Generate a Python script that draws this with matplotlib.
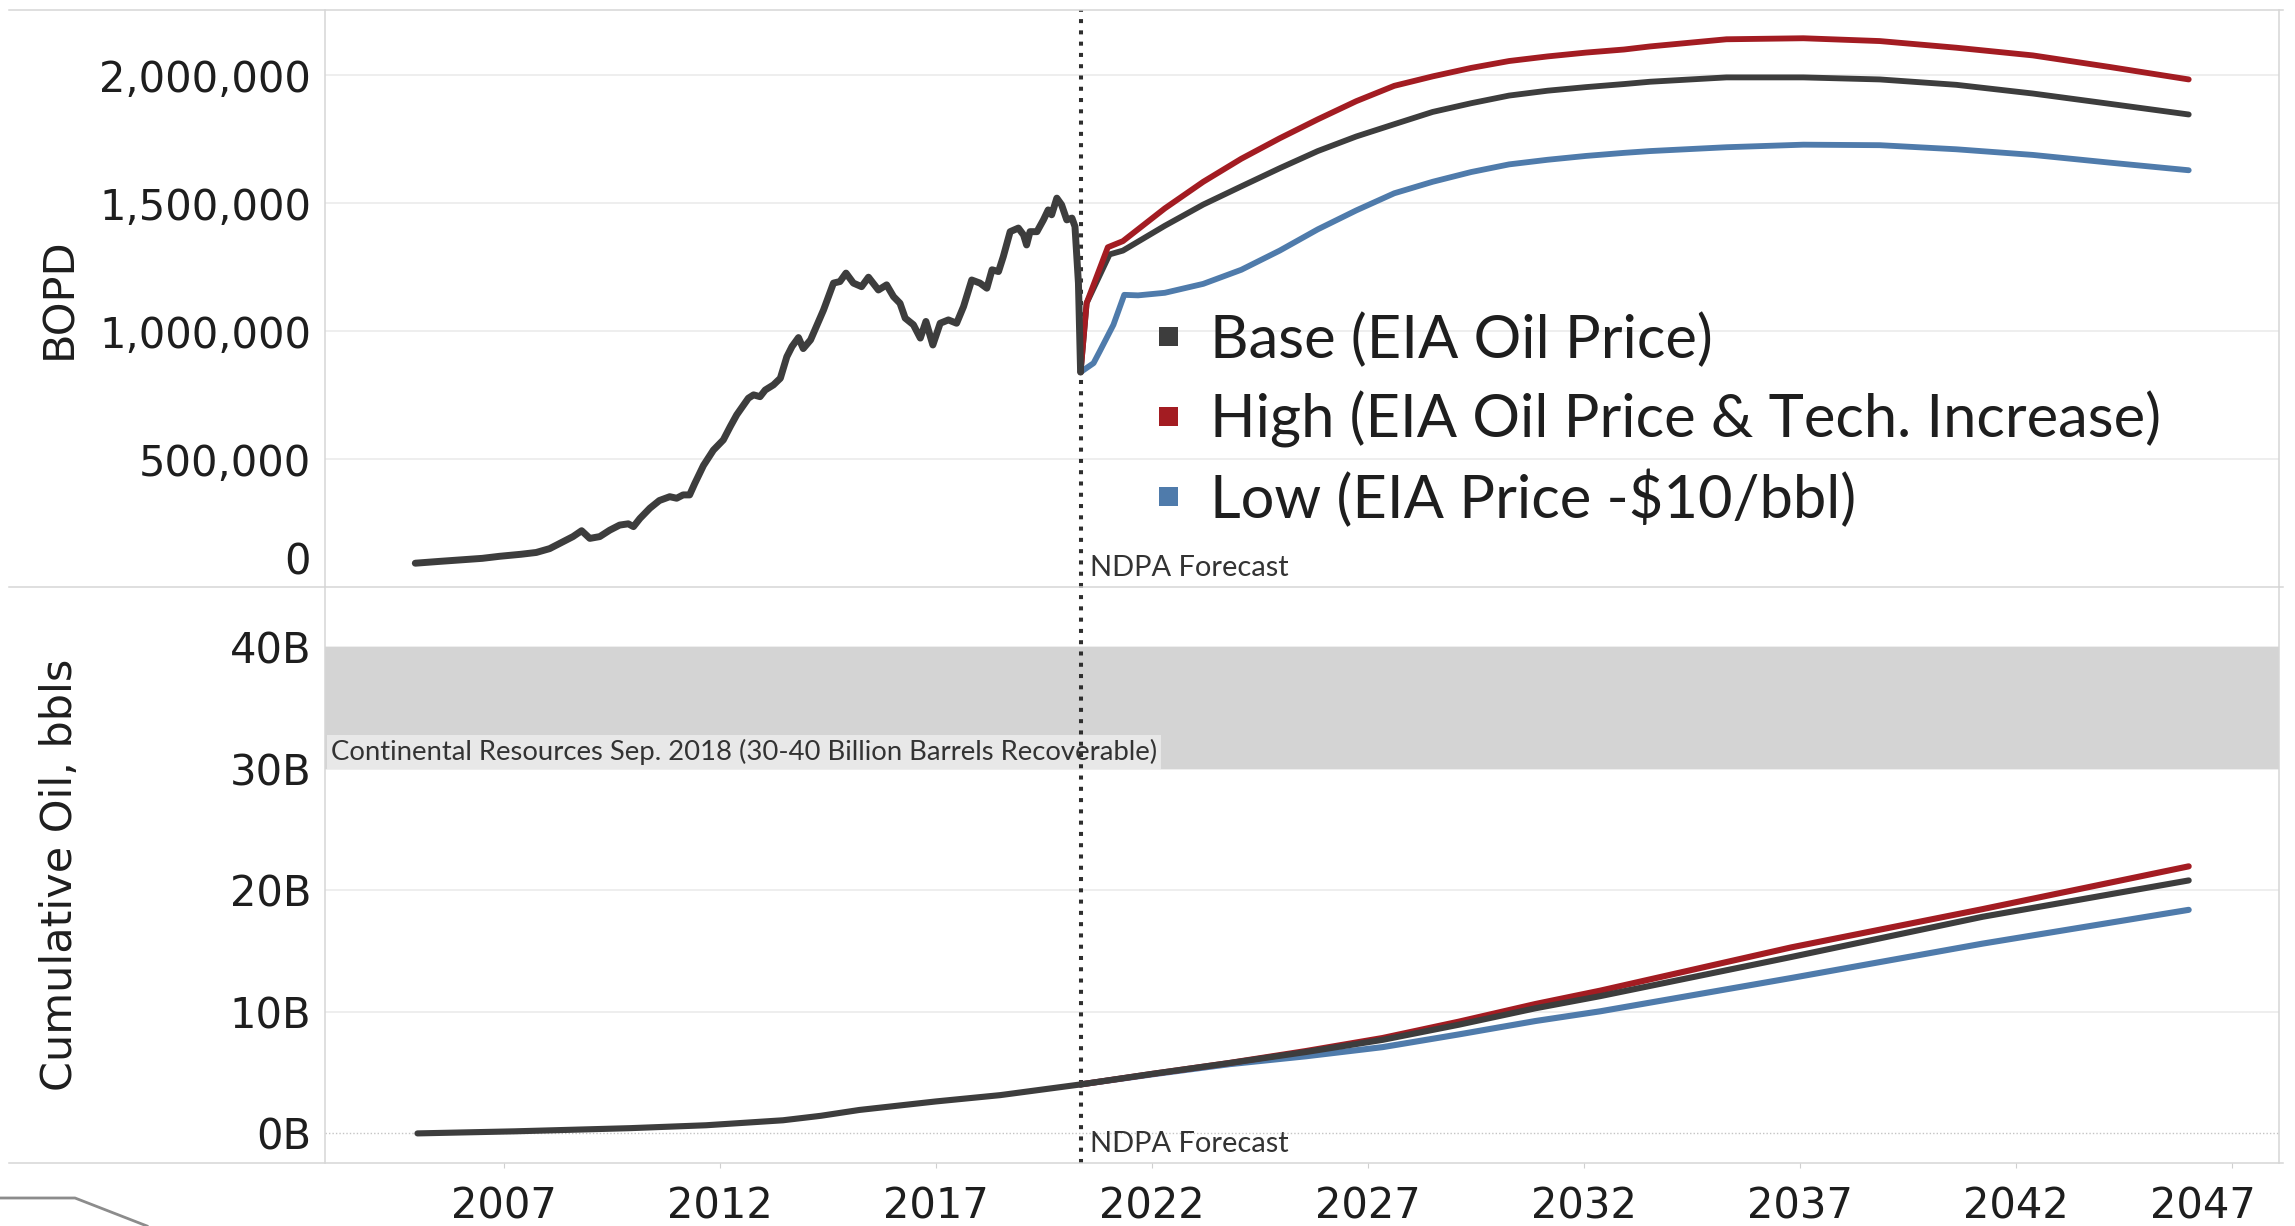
import matplotlib
matplotlib.use("Agg")
import matplotlib.pyplot as plt
from matplotlib.lines import Line2D
from matplotlib.patches import Rectangle

# ---------------- data ----------------
hist_years = [2004.95, 2005.5, 2006.0, 2006.5, 2006.9, 2007.4, 2007.75, 2008.06, 2008.37, 2008.6,
              2008.8, 2008.99, 2009.22, 2009.45, 2009.68, 2009.88, 2010.0, 2010.15, 2010.38, 2010.6,
              2010.84, 2011.0, 2011.15, 2011.3, 2011.42, 2011.62, 2011.85, 2012.08, 2012.24, 2012.39,
              2012.66, 2012.78, 2012.93, 2013.05, 2013.24, 2013.4, 2013.55, 2013.67, 2013.82, 2013.93,
              2014.1, 2014.4, 2014.63, 2014.78, 2014.92, 2015.09, 2015.28, 2015.44, 2015.67, 2015.86,
              2016.02, 2016.17, 2016.29, 2016.48, 2016.64, 2016.77, 2016.93, 2017.1, 2017.29, 2017.48,
              2017.64, 2017.83, 2018.02, 2018.18, 2018.3, 2018.45, 2018.56, 2018.72, 2018.91, 2019.03,
              2019.1, 2019.18, 2019.34, 2019.49, 2019.6, 2019.68, 2019.8, 2019.91, 2020.03, 2020.15,
              2020.22, 2020.3, 2020.35]
hist_bopd_k = [93, 100, 106, 112, 120, 128, 135, 150, 177, 197,
               220, 190, 197, 222, 242, 247, 236, 268, 308, 338,
               353, 347, 360, 360, 405, 475, 535, 575, 627, 673,
               738, 751, 744, 770, 790, 816, 900, 940, 975, 932,
               966, 1083, 1188, 1194, 1227, 1188, 1174, 1211, 1161, 1181,
               1135, 1109, 1051, 1025, 973, 1038, 946, 1031, 1044, 1031,
               1096, 1200, 1188, 1168, 1240, 1233, 1291, 1389, 1403, 1376,
               1337, 1389, 1389, 1435, 1474, 1455, 1520, 1494, 1435, 1442,
               1409, 1188, 840]

grid_years = [2022.3, 2023.19, 2024.07, 2024.96, 2025.84, 2026.73, 2027.61, 2028.5, 2029.39,
              2030.27, 2031.16, 2032.05, 2032.93, 2033.53, 2035.3, 2037.08, 2038.85, 2040.62,
              2042.39, 2044.16, 2046.0]

base_years = [2020.35, 2020.49, 2021.02, 2021.33] + grid_years
base_bopd_k = [840, 1110, 1300, 1315,
               1412, 1495, 1566, 1637, 1704, 1761, 1809, 1857, 1891, 1921, 1940, 1954, 1966, 1975,
               1992, 1992, 1984, 1963, 1929, 1889, 1847]

high_years = [2020.35, 2020.49, 2020.98, 2021.33] + grid_years
high_bopd_k = [840, 1110, 1328, 1352,
               1480, 1584, 1674, 1754, 1828, 1899, 1959, 1996, 2029, 2056, 2074, 2089, 2101, 2113,
               2141, 2145, 2134, 2108, 2078, 2033, 1984]

low_years = [2020.35, 2020.65, 2020.79, 2021.11, 2021.36, 2021.68] + grid_years
low_bopd_k = [840, 875, 920, 1025, 1142, 1140,
              1150, 1185, 1240, 1315, 1398, 1472, 1539, 1584, 1622, 1652, 1670, 1685, 1697, 1704,
              1719, 1729, 1727, 1711, 1689, 1659, 1629]

cum_hist_years = [2005.0, 2007.25, 2009.91, 2011.68, 2013.46, 2014.34, 2015.23, 2017.0, 2018.49, 2020.35]
cum_hist_b = [0.0, 0.17, 0.43, 0.67, 1.08, 1.45, 1.93, 2.63, 3.15, 4.03]

cum_fc_years = [2020.35, 2022.03, 2023.8, 2025.57, 2027.34, 2029.11, 2030.88, 2032.38, 2036.8, 2041.23, 2046.0]
base_cum_b = [4.03, 4.91, 5.79, 6.70, 7.70, 8.95, 10.30, 11.30, 14.52, 17.83, 20.82]
high_cum_b = [4.03, 4.91, 5.80, 6.78, 7.85, 9.20, 10.65, 11.75, 15.31, 18.46, 21.98]
low_cum_b = [4.03, 4.87, 5.70, 6.35, 7.10, 8.15, 9.25, 10.05, 12.79, 15.62, 18.40]

bopd_ticks_k = [500, 1000, 1500, 2000]
cum_ticks_b = [0, 10, 20, 30, 40]
year_ticks = [2007, 2012, 2017, 2022, 2027, 2032, 2037, 2042, 2047]
forecast_start = 2020.35
band_range_b = (30, 40)

legend_labels = ["Base (EIA Oil Price)", "High (EIA Oil Price & Tech. Increase)", "Low (EIA Price -$10/bbl)"]
band_label = "Continental Resources Sep. 2018 (30-40 Billion Barrels Recoverable)"
forecast_label = "NDPA Forecast"

# ---------------- style ----------------
BASE = "#3d3d3d"
HIGH = "#a31c22"
LOW = "#4f7bab"
GRID = "#ebebeb"
BORDER = "#d6d6d6"
TXT = "#1e1e1e"
TICKFONT = "DejaVu Sans"
ANNFONT = "Lato"

W, H = 2295, 1226
fig = plt.figure(figsize=(W / 100, H / 100), dpi=100)


def fxp(px):
    return px / W


def fyp(py):
    return 1 - py / H


L, R = 325, 2279
T1, B1 = 9.6, 587
T2, B2 = 587, 1163
ax1 = fig.add_axes([fxp(L), fyp(B1), (R - L) / W, (B1 - T1) / H])
ax2 = fig.add_axes([fxp(L), fyp(B2), (R - L) / W, (B2 - T2) / H], sharex=ax1)

ax1.set_xlim(2002.86, 2048.09)
ax1.set_ylim(0, 2257)
ax2.set_ylim(-2.436, 44.97)

for ax in (ax1, ax2):
    for s in ("top", "bottom"):
        ax.spines[s].set_visible(False)
    for s in ("left", "right"):
        ax.spines[s].set_color(BORDER)
        ax.spines[s].set_linewidth(1.1)
    ax.set_facecolor("white")

# gridlines
for v in bopd_ticks_k:
    ax1.axhline(v, color=GRID, lw=1.2, zorder=0)
for v in cum_ticks_b[1:]:
    ax2.axhline(v, color=GRID, lw=1.2, zorder=0)
ax2.axhline(0, color="#c4c4c4", lw=1.0, ls=(0, (1, 1.5)), zorder=0.5)

# reference band
ax2.axhspan(band_range_b[0], band_range_b[1], color="#d4d4d4", lw=0, zorder=0.6)
band_txt = ax2.annotate(band_label, xy=(0, band_range_b[0]), xycoords=ax2.get_yaxis_transform(),
                        xytext=(4.3, 6.3), textcoords="offset points", ha="left", va="baseline",
                        fontsize=19, family=ANNFONT, color="#333333", zorder=2,
                        bbox=dict(boxstyle="square,pad=0.15", fc="#e8e8e8", ec="none"))

# forecast divider
for ax in (ax1, ax2):
    ax.axvline(forecast_start, color="#2e2e2e", lw=2.9, ls=(0, (1, 1.8)), zorder=2.5,
               dash_capstyle="butt")
ndpa = []
for ax in (ax1, ax2):
    t = ax.annotate(forecast_label, xy=(forecast_start, 0), xycoords=ax.get_xaxis_transform(),
                    xytext=(6.8, 7.9), textcoords="offset points", ha="left", va="baseline",
                    fontsize=21, family=ANNFONT, color="#333333", zorder=3)
    ndpa.append(t)

# lines
lk = dict(solid_joinstyle="round", solid_capstyle="round")
ax1.plot(low_years, low_bopd_k, color=LOW, lw=4.2, zorder=4, **lk)
ax1.plot(base_years, base_bopd_k, color=BASE, lw=4.2, zorder=4.1, **lk)
ax1.plot(high_years, high_bopd_k, color=HIGH, lw=4.2, zorder=4.2, **lk)
ax1.plot(hist_years, hist_bopd_k, color=BASE, lw=5.0, zorder=4.5, **lk)

ax2.plot(cum_fc_years, low_cum_b, color=LOW, lw=4.4, zorder=4, **lk)
ax2.plot(cum_fc_years, high_cum_b, color=HIGH, lw=4.4, zorder=4.1, **lk)
ax2.plot(cum_fc_years, base_cum_b, color=BASE, lw=4.4, zorder=4.2, **lk)
ax2.plot(cum_hist_years, cum_hist_b, color=BASE, lw=4.4, zorder=4.3, **lk)

# ticks
ax1.set_yticks(bopd_ticks_k)
ax1.set_yticklabels([f"{v * 1000:,.0f}" for v in bopd_ticks_k])
ax2.set_yticks(cum_ticks_b)
ax2.set_yticklabels([f"{v}B" for v in cum_ticks_b])
for ax in (ax1, ax2):
    ax.tick_params(axis="y", length=0, pad=10, labelsize=30, labelcolor=TXT)
    for lab in ax.get_yticklabels():
        lab.set_family(TICKFONT)
ax1.annotate("0", xy=(0, 0), xycoords=ax1.get_yaxis_transform(), xytext=(-10, 21.2),
             textcoords="offset points", ha="right", va="center_baseline", fontsize=30,
             family=TICKFONT, color=TXT)

XPAD = 12.5
ax2.set_xticks(year_ticks)
ax2.set_xticklabels([str(y) for y in year_ticks[:-1]] + [""])
ax2.tick_params(axis="x", length=3.6, width=0.8, color="#cfcfcf", labelsize=30, pad=XPAD,
                labelcolor=TXT)
ax1.tick_params(axis="x", length=0, labelbottom=False)
ax2.annotate(str(year_ticks[-1]), xy=(year_ticks[-1], 0), xycoords=ax2.get_xaxis_transform(),
             xytext=(-21.2, -(3.6 + XPAD)), textcoords="offset points", ha="center", va="top",
             fontsize=30, family=TICKFONT, color=TXT)

# axis titles
ax1.set_ylabel("BOPD", fontsize=31, family=TICKFONT, color=TXT)
ax2.set_ylabel("Cumulative Oil, bbls", fontsize=31, family=TICKFONT, color=TXT)
ax1.yaxis.set_label_coords(-0.1251, 0.5)
ax2.yaxis.set_label_coords(-0.1251, 0.5)

# frame lines spanning the full width
for py in (T1, B1, B2):
    fig.add_artist(Line2D([fxp(9), fxp(2283)], [fyp(py), fyp(py)], transform=fig.transFigure,
                          color=BORDER, lw=1.1))
# corner decoration
fig.add_artist(Line2D([fxp(0), fxp(75), fxp(147)], [fyp(1198), fyp(1198), fyp(1226)],
                      transform=fig.transFigure, color="#8c8c8c", lw=2))

# legend (manual, as in the reference)
leg_colors = [BASE, HIGH, LOW]
sq_centers = [336, 416.5, 497]
baselines = [357.8, 438, 518.6]
sq = 19
leg_texts = []
for lab, c, yc, yb in zip(legend_labels, leg_colors, sq_centers, baselines):
    fig.add_artist(Rectangle((fxp(1168 - sq / 2), fyp(yc + sq / 2)), sq / W, sq / H,
                             transform=fig.transFigure, color=c, lw=0))
    leg_texts.append(fig.text(fxp(1210), fyp(yb), lab, fontsize=38, family=ANNFONT,
                              color=TXT, va="baseline", ha="left"))

# fit annotation font sizes to the widths measured on the reference
renderer = fig.canvas.get_renderer()


def fit(t, width_px):
    w = t.get_window_extent(renderer).width
    t.set_fontsize(t.get_fontsize() * width_px / w)


fit(leg_texts[1], 952)
for t in leg_texts:
    t.set_fontsize(leg_texts[1].get_fontsize())
fit(band_txt, 827)
fit(ndpa[0], 199)
ndpa[1].set_fontsize(ndpa[0].get_fontsize())

fig.savefig("out.png", dpi=100, facecolor="white")
